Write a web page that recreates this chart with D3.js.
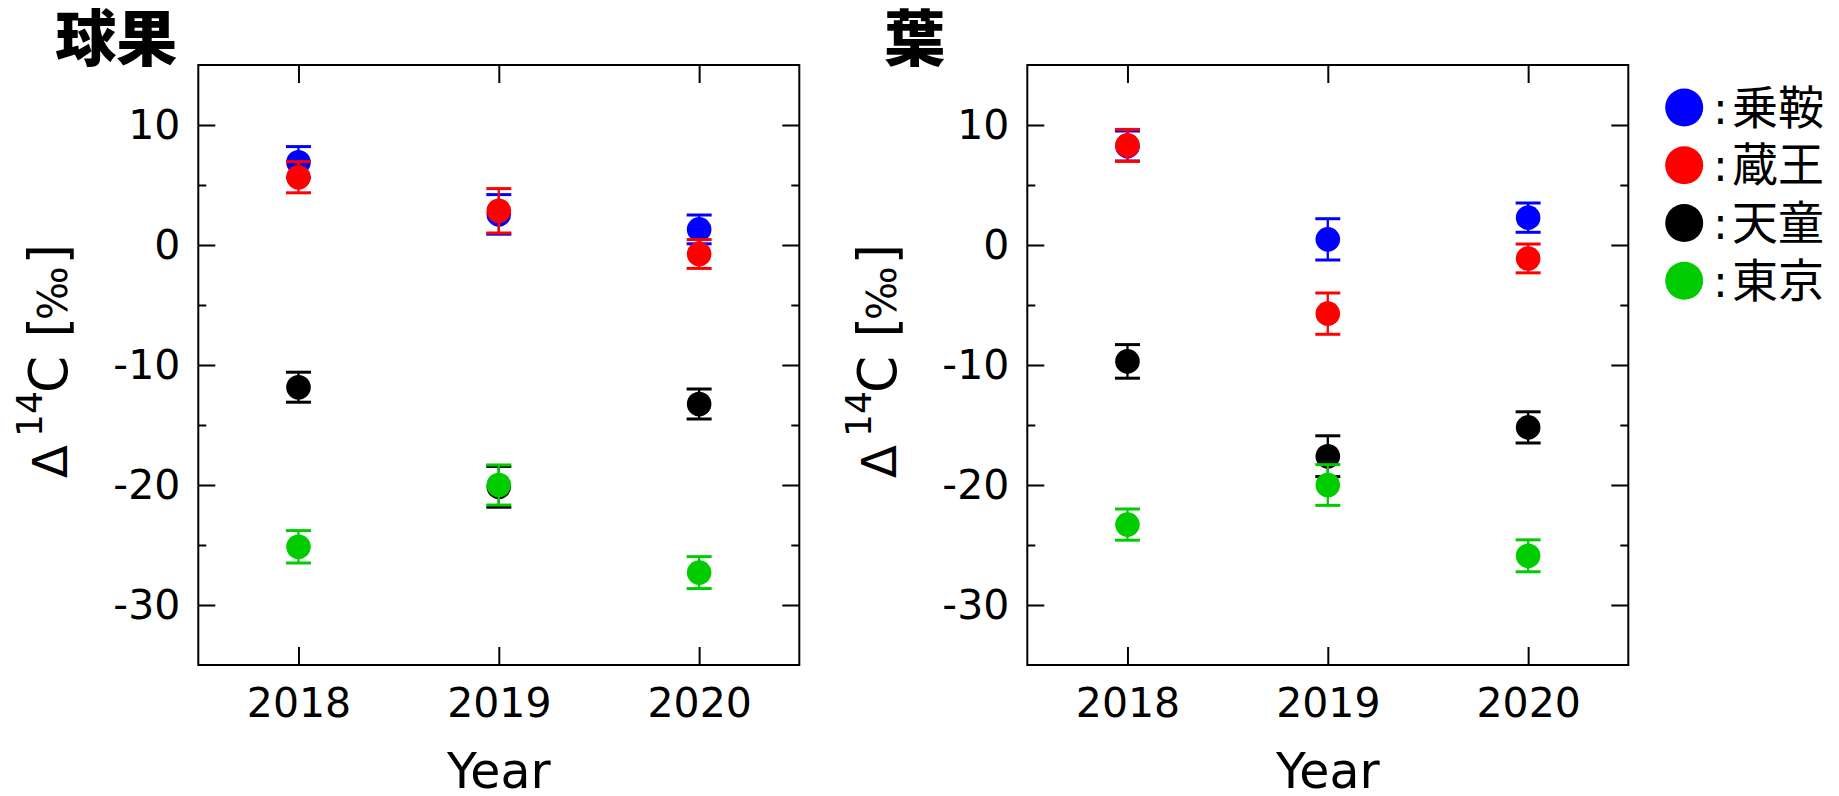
<!DOCTYPE html>
<html>
<head>
<meta charset="utf-8">
<script src="https://cdn.jsdelivr.net/npm/d3@7"></script>
<style>
  html, body { margin: 0; padding: 0; background: #fff; }
  svg { display: block; }
</style>
</head>
<body>
<svg id="chart" width="1839" height="796"></svg>
<script>
// Sampling years and sites
const years = [2018, 2019, 2020];
const sites = ["乗鞍", "蔵王", "天童", "東京"];
const siteColors = ["#0000ff", "#ff0000", "#000000", "#00cc00"];

// Δ14C of cones (球果), one row per site, one column per year
const coneValues = [
  [6.9, 2.55, 1.3],
  [5.65, 2.85, -0.75],
  [-11.85, -20.15, -13.25],
  [-25.15, -20.0, -27.3]
];
const coneErrors = [
  [1.3, 1.65, 1.2],
  [1.3, 1.85, 1.2],
  [1.25, 1.7, 1.25],
  [1.35, 1.67, 1.33]
];

// Δ14C of leaves (葉)
const leafValues = [
  [8.25, 0.47, 2.28],
  [8.3, -5.72, -1.12],
  [-9.7, -17.6, -15.2],
  [-23.3, -20.0, -25.9]
];
const leafErrors = [
  [1.25, 1.72, 1.22],
  [1.33, 1.72, 1.2],
  [1.4, 1.7, 1.3],
  [1.3, 1.7, 1.33]
];

// Axis ticks
const yMajorTicks = [-30, -20, -10, 0, 10];
const yMinorTicks = [-25, -15, -5, 5];
const yDomain = [-35, 15];
const xDomain = [2017.5, 2020.5];

const svg = d3.select("#chart");
const numFont = "'DejaVu Sans', sans-serif";
const cjkFont = "'Noto Sans CJK JP', 'Noto Sans CJK SC', sans-serif";

const plotTop = 65, plotBottom = 665, plotWidth = 601;

function drawPanel(left, title, values, errors) {
  const x = d3.scaleLinear().domain(xDomain).range([left, left + plotWidth]);
  const y = d3.scaleLinear().domain(yDomain).range([plotBottom, plotTop]);
  const g = svg.append("g");

  const styleAxis = sel => {
    sel.select(".domain").remove();
    sel.selectAll(".tick line").attr("stroke", "#000").attr("stroke-width", 2);
  };

  // left axis with labels
  g.append("g").attr("transform", `translate(${left},0)`)
    .call(d3.axisLeft(y).tickValues(yMajorTicks).tickSize(-17).tickPadding(18)
      .tickFormat(d => String(d)))
    .call(styleAxis)
    .call(s => s.selectAll("text")
      .attr("dy", null).attr("y", 13)
      .attr("font-family", numFont).attr("font-size", 41).attr("fill", "#000"));
  g.append("g").attr("transform", `translate(${left},0)`)
    .call(d3.axisLeft(y).tickValues(yMinorTicks).tickSize(-8).tickFormat(""))
    .call(styleAxis);

  // mirrored right axis
  g.append("g").attr("transform", `translate(${left + plotWidth},0)`)
    .call(d3.axisRight(y).tickValues(yMajorTicks).tickSize(-17).tickFormat(""))
    .call(styleAxis);
  g.append("g").attr("transform", `translate(${left + plotWidth},0)`)
    .call(d3.axisRight(y).tickValues(yMinorTicks).tickSize(-8).tickFormat(""))
    .call(styleAxis);

  // bottom axis with year labels
  g.append("g").attr("transform", `translate(0,${plotBottom})`)
    .call(d3.axisBottom(x).tickValues(years).tickSize(-18).tickFormat(d => String(d)))
    .call(styleAxis)
    .call(s => s.selectAll("text")
      .attr("dy", null).attr("y", 51.7)
      .attr("font-family", numFont).attr("font-size", 41).attr("fill", "#000"));
  // mirrored top axis
  g.append("g").attr("transform", `translate(0,${plotTop})`)
    .call(d3.axisTop(x).tickValues(years).tickSize(-18).tickFormat(""))
    .call(styleAxis);

  // frame
  g.append("rect")
    .attr("x", left).attr("y", plotTop)
    .attr("width", plotWidth).attr("height", plotBottom - plotTop)
    .attr("fill", "none").attr("stroke", "#000").attr("stroke-width", 2);

  // data: error bars then markers, series by series
  const capHalf = 12.5;
  sites.forEach((site, si) => {
    const sg = g.append("g");
    const pts = years.map((yr, yi) => ({ yr, v: values[si][yi], e: errors[si][yi] }));
    const color = siteColors[si];
    sg.selectAll("line.bar").data(pts).join("line")
      .attr("x1", d => x(d.yr)).attr("x2", d => x(d.yr))
      .attr("y1", d => y(d.v + d.e)).attr("y2", d => y(d.v - d.e))
      .attr("stroke", color).attr("stroke-width", 2.3);
    sg.selectAll("line.capTop").data(pts).join("line")
      .attr("x1", d => x(d.yr) - capHalf).attr("x2", d => x(d.yr) + capHalf)
      .attr("y1", d => y(d.v + d.e)).attr("y2", d => y(d.v + d.e))
      .attr("stroke", color).attr("stroke-width", 3);
    sg.selectAll("line.capBot").data(pts).join("line")
      .attr("x1", d => x(d.yr) - capHalf).attr("x2", d => x(d.yr) + capHalf)
      .attr("y1", d => y(d.v - d.e)).attr("y2", d => y(d.v - d.e))
      .attr("stroke", color).attr("stroke-width", 3);
    sg.selectAll("circle").data(pts).join("circle")
      .attr("cx", d => x(d.yr)).attr("cy", d => y(d.v))
      .attr("r", 12.3).attr("fill", color);
  });

  // x axis title
  g.append("text")
    .attr("x", left + plotWidth / 2).attr("y", 788)
    .attr("text-anchor", "middle")
    .attr("font-family", numFont).attr("font-size", 49)
    .text("Year");

  // y axis title: Δ14C [‰]
  const yt = g.append("text")
    .attr("transform", `translate(${left - 131.6},477) rotate(-90)`)
    .attr("font-family", numFont).attr("fill", "#000");
  yt.append("tspan").attr("x", -1).attr("y", 0).attr("font-size", 48).text("Δ");
  yt.append("tspan").attr("x", 40).attr("y", -25).attr("font-size", 36).text("14");
  yt.append("tspan").attr("x", 84).attr("y", 0).attr("font-size", 53).text("C");
  yt.append("tspan").attr("x", 139.6).attr("y", 0).attr("font-size", 53).text("[");
  yt.append("tspan").attr("x", 157).attr("y", 0).attr("font-size", 40).text("‰");
  yt.append("tspan").attr("x", 212.6).attr("y", 0).attr("font-size", 53).text("]");

  // panel title
  g.append("text")
    .attr("x", left - 143).attr("y", 61)
    .attr("font-family", cjkFont).attr("font-weight", 900).attr("font-size", 61)
    .text(title);
}

drawPanel(198.3, "球果", coneValues, coneErrors);
drawPanel(1027.3, "葉", leafValues, leafErrors);

// legend
const legend = svg.append("g");
const legendY = d3.scaleLinear().domain([0, 3]).range([107.5, 280.7]);
sites.forEach((site, i) => {
  const cy = legendY(i);
  legend.append("circle").attr("cx", 1684.2).attr("cy", cy).attr("r", 19).attr("fill", siteColors[i]);
  legend.append("text").attr("x", 1713).attr("y", cy + 16)
    .attr("font-family", numFont).attr("font-size", 44).attr("fill", "#000").text(":");
  legend.append("text").attr("x", 1732).attr("y", cy + 16)
    .attr("font-family", cjkFont).attr("font-size", 46).attr("fill", "#000").text(site);
});
</script>
</body>
</html>
